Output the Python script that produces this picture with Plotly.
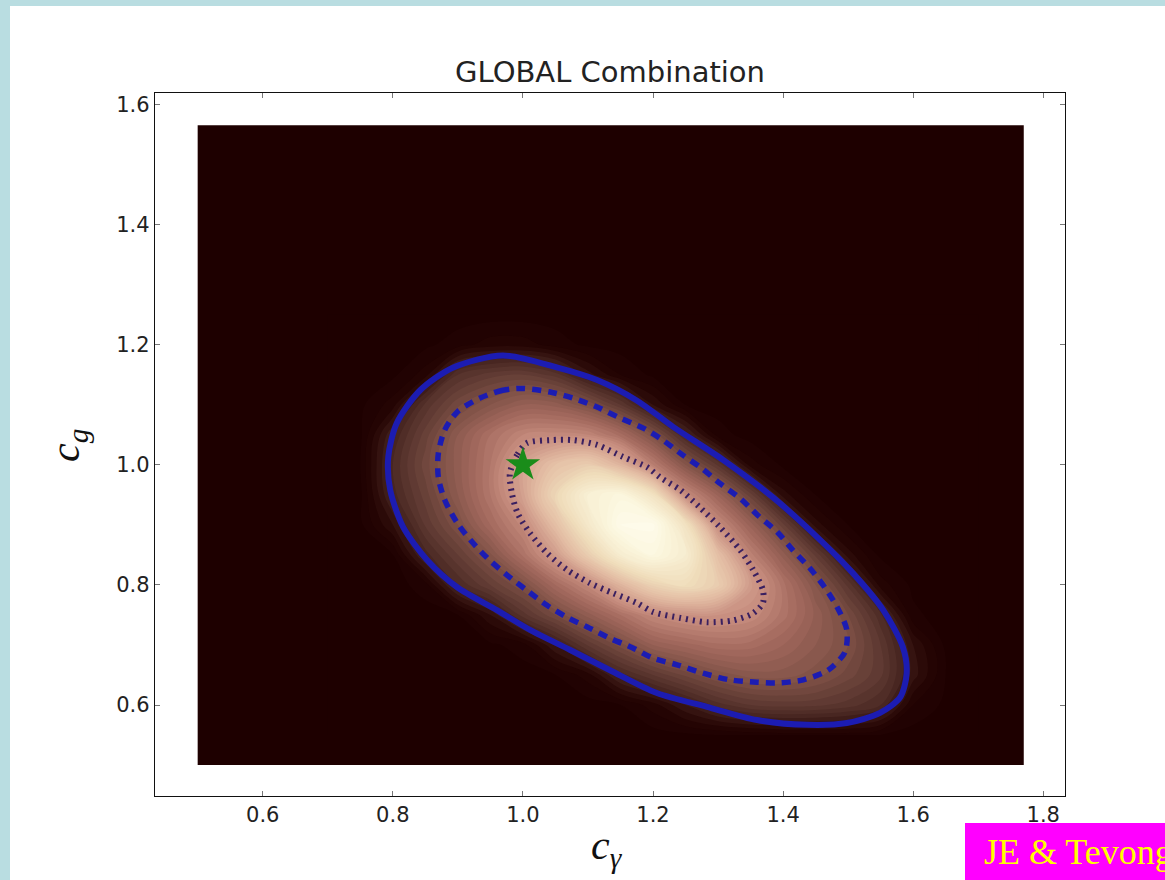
import plotly.graph_objects as go

# ---------------- data ----------------
# likelihood glow intensity (0 = background, 1 = peak) on a coarse grid
grid_x = [0.70, 0.75, 0.80, 0.85, 0.90, 0.95, 1.00, 1.05, 1.10, 1.15, 1.20,
          1.25, 1.30, 1.35, 1.40, 1.45, 1.50, 1.55, 1.60, 1.65, 1.70]
grid_y = [0.55, 0.60, 0.65, 0.70, 0.75, 0.80, 0.85, 0.90, 0.95, 1.00, 1.05,
          1.10, 1.15, 1.20, 1.25]
glow_055 = [0, 0, 0, 0, 0, 0, 0, 0, 0, 0, 0, 0.005, 0.01, 0.015, 0.02, 0.02, 0.02, 0.01, 0, 0, 0]
glow_060 = [0, 0, 0, 0, 0, 0, 0, 0, 0, 0.01, 0.04, 0.09, 0.14, 0.17, 0.178, 0.175, 0.16, 0.13, 0.03, 0.005, 0]
glow_065 = [0, 0, 0, 0, 0, 0, 0, 0.01, 0.04, 0.12, 0.17, 0.215, 0.255, 0.28, 0.28, 0.26, 0.22, 0.175, 0.08, 0.01, 0]
glow_070 = [0, 0, 0, 0, 0, 0.005, 0.02, 0.09, 0.173, 0.24, 0.31, 0.34, 0.365, 0.36, 0.33, 0.29, 0.25, 0.17, 0.07, 0.005, 0]
glow_075 = [0, 0, 0, 0, 0.01, 0.07, 0.16, 0.23, 0.30, 0.37, 0.44, 0.47, 0.47, 0.45, 0.38, 0.305, 0.23, 0.135, 0.015, 0, 0]
glow_080 = [0, 0, 0, 0.02, 0.13, 0.19, 0.25, 0.35, 0.44, 0.58, 0.70, 0.75, 0.68, 0.50, 0.38, 0.27, 0.164, 0.04, 0.005, 0, 0]
glow_085 = [0, 0, 0.01, 0.12, 0.19, 0.265, 0.375, 0.50, 0.68, 0.85, 0.93, 0.85, 0.62, 0.42, 0.30, 0.185, 0.06, 0.005, 0, 0, 0]
glow_090 = [0, 0.005, 0.07, 0.173, 0.25, 0.35, 0.44, 0.62, 0.82, 0.97, 0.98, 0.78, 0.45, 0.32, 0.196, 0.06, 0.01, 0, 0, 0, 0]
glow_095 = [0, 0.005, 0.12, 0.20, 0.29, 0.39, 0.52, 0.72, 0.87, 0.92, 0.78, 0.45, 0.325, 0.197, 0.06, 0.01, 0, 0, 0, 0, 0]
glow_100 = [0, 0.01, 0.13, 0.22, 0.30, 0.39, 0.52, 0.63, 0.68, 0.58, 0.41, 0.27, 0.165, 0.04, 0.005, 0, 0, 0, 0, 0, 0]
glow_105 = [0, 0.005, 0.11, 0.20, 0.29, 0.37, 0.43, 0.44, 0.43, 0.36, 0.25, 0.12, 0.02, 0, 0, 0, 0, 0, 0, 0, 0]
glow_110 = [0, 0.005, 0.04, 0.155, 0.225, 0.27, 0.31, 0.30, 0.25, 0.17, 0.07, 0.01, 0, 0, 0, 0, 0, 0, 0, 0, 0]
glow_115 = [0, 0, 0.005, 0.04, 0.15, 0.18, 0.19, 0.16, 0.08, 0.03, 0.005, 0, 0, 0, 0, 0, 0, 0, 0, 0, 0]
glow_120 = [0, 0, 0, 0.005, 0.02, 0.04, 0.04, 0.02, 0.005, 0, 0, 0, 0, 0, 0, 0, 0, 0, 0, 0, 0]
glow_125 = [0, 0, 0, 0, 0, 0, 0, 0, 0, 0, 0, 0, 0, 0, 0, 0, 0, 0, 0, 0, 0]

# extent of the likelihood map
map_x = [0.5, 1.77]
map_y = [0.5, 1.565]

# contours (outer solid, middle dashed, inner dotted)
solid_x = [0.969, 0.893, 0.842, 0.806, 0.793, 0.796, 0.816, 0.853, 0.899, 0.960,
           1.011, 1.072, 1.134, 1.206, 1.283, 1.360, 1.437, 1.498, 1.549, 1.580,
           1.590, 1.584, 1.554, 1.507, 1.452, 1.384, 1.308, 1.231, 1.175, 1.114,
           1.052, 0.969]
solid_y = [1.182, 1.162, 1.124, 1.069, 1.013, 0.958, 0.896, 0.841, 0.796, 0.758,
           0.725, 0.692, 0.658, 0.620, 0.597, 0.575, 0.567, 0.570, 0.587, 0.613,
           0.653, 0.697, 0.758, 0.820, 0.880, 0.946, 1.008, 1.063, 1.107, 1.141,
           1.162, 1.182]
dashed_x = [1.000, 0.969, 0.934, 0.899, 0.880, 0.870, 0.870, 0.880, 0.899, 0.919,
            0.945, 0.976, 1.006, 1.037, 1.068, 1.099, 1.134, 1.169, 1.200, 1.237,
            1.277, 1.318, 1.360, 1.395, 1.431, 1.469, 1.495, 1.498, 1.483, 1.464,
            1.441, 1.415, 1.391, 1.361, 1.334, 1.303, 1.275, 1.246, 1.215, 1.185,
            1.149, 1.114, 1.077, 1.042, 1.000]
dashed_y = [1.127, 1.124, 1.111, 1.088, 1.058, 1.019, 0.979, 0.941, 0.903, 0.875,
            0.845, 0.816, 0.791, 0.766, 0.746, 0.730, 0.711, 0.695, 0.678, 0.667,
            0.653, 0.642, 0.638, 0.637, 0.642, 0.658, 0.688, 0.725, 0.763, 0.796,
            0.828, 0.858, 0.888, 0.916, 0.944, 0.969, 0.994, 1.016, 1.041, 1.061,
            1.078, 1.096, 1.111, 1.121, 1.127]
dotted_x = [1.006, 0.991, 0.980, 0.983, 0.992, 1.011, 1.037, 1.068, 1.103, 1.139,
            1.175, 1.200, 1.242, 1.283, 1.323, 1.354, 1.369, 1.369, 1.354, 1.334,
            1.303, 1.272, 1.242, 1.211, 1.191, 1.154, 1.114, 1.077, 1.042, 1.006]
dotted_y = [1.036, 1.016, 0.986, 0.953, 0.919, 0.886, 0.853, 0.825, 0.803, 0.786,
            0.770, 0.755, 0.745, 0.738, 0.741, 0.753, 0.770, 0.791, 0.825, 0.858,
            0.896, 0.929, 0.958, 0.979, 0.996, 1.013, 1.033, 1.041, 1.041, 1.036]

# Standard Model point
sm_x = [1.0]
sm_y = [1.0]

x_ticks = [0.6, 0.8, 1.0, 1.2, 1.4, 1.6, 1.8]
y_ticks = [0.6, 0.8, 1.0, 1.2, 1.4, 1.6]

# ---------------- figure ----------------
glow = [glow_055, glow_060, glow_065, glow_070, glow_075, glow_080, glow_085,
        glow_090, glow_095, glow_100, glow_105, glow_110, glow_115, glow_120, glow_125]

glow_scale = [
    [0.0, "rgb(30,0,0)"], [0.05, "rgb(38,5,4)"], [0.12, "rgb(72,38,33)"],
    [0.185, "rgb(98,60,52)"], [0.25, "rgb(126,80,70)"], [0.35, "rgb(164,106,94)"],
    [0.45, "rgb(198,140,126)"], [0.6, "rgb(226,186,162)"], [0.75, "rgb(240,222,188)"],
    [0.9, "rgb(250,244,218)"], [1.0, "rgb(255,253,238)"],
]

BLUE = "#1c1cb2"
fig = go.Figure()

# smooth glow drawn as many thin filled bands (vector, no image scaling)
fig.add_trace(go.Contour(x=grid_x, y=grid_y, z=glow, zmin=0, zmax=1,
                         colorscale=glow_scale, showscale=False, hoverinfo="skip",
                         autocontour=False,
                         contours=dict(start=0.01, end=0.99, size=0.02, coloring="fill",
                                       showlines=False),
                         line=dict(width=0, smoothing=1.0)))
fig.add_trace(go.Scatter(x=solid_x, y=solid_y, mode="lines",
                         line=dict(color=BLUE, width=6, shape="spline", smoothing=0.8),
                         showlegend=False))
fig.add_trace(go.Scatter(x=dashed_x, y=dashed_y, mode="lines",
                         line=dict(color=BLUE, width=5.5, dash="9px,7px", shape="spline", smoothing=0.8),
                         showlegend=False))
fig.add_trace(go.Scatter(x=dotted_x, y=dotted_y, mode="lines",
                         line=dict(color="#3a2060", width=6, dash="2px,5px", shape="spline", smoothing=0.8),
                         showlegend=False))
fig.add_trace(go.Scatter(x=sm_x, y=sm_y, mode="markers",
                         marker=dict(symbol="star", size=26, color="#1a8c1a",
                                     line=dict(width=0)),
                         showlegend=False))

W, H = 1165, 880
L, R, T, B = 155, 100, 93, 84
pw, ph = W - L - R, H - T - B


def px(xp):
    return (xp - L) / pw


def py(yp):
    return (H - B - yp) / ph


shapes = [
    # white panel inside light-blue frame
    dict(type="rect", xref="paper", yref="paper", x0=px(10), x1=px(W + 20),
         y0=py(6), y1=py(H + 20), fillcolor="white", line=dict(width=0), layer="below"),
    # dark background of the map
    dict(type="rect", xref="x", yref="y", x0=map_x[0], x1=map_x[1],
         y0=map_y[0], y1=map_y[1], fillcolor="rgb(30,0,0)", line=dict(width=0), layer="below"),
    # magenta credit box
    dict(type="rect", xref="paper", yref="paper", x0=px(965), x1=px(W + 20),
         y0=py(H + 20), y1=py(823), fillcolor="#ff00ff", line=dict(width=0), layer="above"),
]

annotations = [
    dict(text="<i>c</i><sub><i>γ</i></sub>", xref="paper", yref="paper",
         x=px(607), y=py(848), xanchor="center", yanchor="middle", showarrow=False,
         font=dict(family="Liberation Serif", size=42, color="#111")),
    dict(text="<i>c</i><sub><i>g</i></sub>", xref="paper", yref="paper",
         x=px(68), y=py(446), xanchor="center", yanchor="middle", showarrow=False,
         textangle=-90, font=dict(family="Liberation Serif", size=42, color="#111")),
    dict(text="JE &amp; Tevong", xref="paper", yref="paper",
         x=px(982), y=py(852), xanchor="left", yanchor="middle", showarrow=False,
         font=dict(family="Liberation Serif", size=36, color="#ffff00")),
]

axis_common = dict(showgrid=False, zeroline=False, showline=True, linecolor="#111",
                   linewidth=1.4, mirror="ticks", ticks="inside", ticklen=5,
                   tickcolor="#777", tickwidth=1,
                   tickfont=dict(family="DejaVu Sans", size=21, color="#222"))

fig.update_layout(
    width=W, height=H,
    margin=dict(l=L, r=R, t=T, b=B),
    paper_bgcolor="#b9dde1", plot_bgcolor="white",
    title=dict(text="GLOBAL Combination", x=0.5, xref="paper", xanchor="center",
               y=1 - 72 / H, yref="container", yanchor="middle",
               font=dict(family="DejaVu Sans", size=29, color="#222")),
    xaxis=dict(range=[0.4344, 1.8334], tickvals=x_ticks,
               ticktext=[f"{v:.1f}" for v in x_ticks], **axis_common),
    yaxis=dict(range=[0.4486, 1.6188], tickvals=y_ticks,
               ticktext=[f"{v:.1f}" for v in y_ticks], **axis_common),
    shapes=shapes, annotations=annotations, showlegend=False,
)

fig.write_html("out.html")
